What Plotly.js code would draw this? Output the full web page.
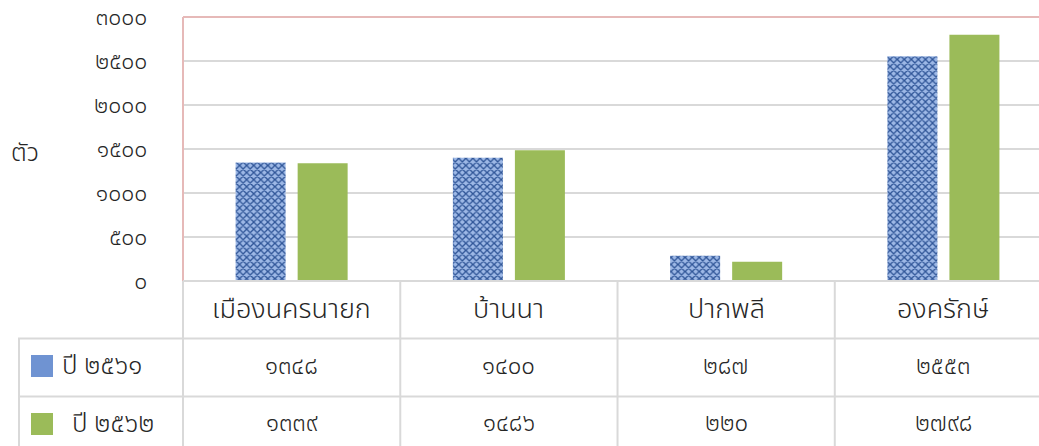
<!DOCTYPE html>
<html>
<head>
<meta charset="utf-8">
<script src="https://cdn.plot.ly/plotly-3.0.1.min.js"></script>
<style>html,body{margin:0;padding:0;background:#fff;}#chart{width:1039px;height:446px;}</style>
</head>
<body>
<div id="chart"></div>
<script>
// ---- data ----
var categories = ['เมืองนครนายก', 'บ้านนา', 'ปากพลี', 'องครักษ์'];
var seriesNames = ['ปี ๒๕๖๑', 'ปี ๒๕๖๒'];
var values2561 = [1348, 1400, 287, 2553];
var values2562 = [1339, 1486, 220, 2798];
var yTickVals = [0, 500, 1000, 1500, 2000, 2500, 3000];
var yTickText = ['๐', '๕๐๐', '๑๐๐๐', '๑๕๐๐', '๒๐๐๐', '๒๕๐๐', '๓๐๐๐'];
var yTitle = 'ตัว';

// ---- helpers ----
var thaiDigits = ['๐','๑','๒','๓','๔','๕','๖','๗','๘','๙'];
function toThai(n) { return String(n).replace(/[0-9]/g, function (d) { return thaiDigits[+d]; }); }

var FONT = '"Noto Sans Thai", "Leelawadee UI", Tahoma, "DejaVu Sans", sans-serif';
var TXT = '#262626';
var GRID = '#d9d9d9';
var PINK = '#e6b9b8';
var BLUE = '#6f93d2';
var GREEN = '#9bbb59';
var WEIGHT = 300;

// geometry of the chart layout in paper units (plot area: x 183..1039, y 17..281)
var W = 1039, H = 446, L = 183, T = 17, B = 165;
var pw = W - L, ph = H - T - B;
function px(x) { return (x - L) / pw; }
function py(y) { return (H - B - y) / ph; }

var traces = [
  { type: 'bar', name: seriesNames[0], x: categories, y: values2561,
    marker: { color: BLUE, pattern: { shape: 'x', fgcolor: '#2f5597', bgcolor: '#9db8e6', size: 5, solidity: 0.45 } },
    hoverinfo: 'x+y' },
  { type: 'bar', name: seriesNames[1], x: categories, y: values2562,
    marker: { color: GREEN }, hoverinfo: 'x+y' }
];

var shapes = [];
function line(xref, x0, x1, yref, y0, y1, color) {
  shapes.push({ type: 'line', xref: xref, yref: yref, x0: x0, x1: x1, y0: y0, y1: y1,
    line: { color: color, width: 2 }, layer: 'above' });
}
// plot border (top + left) in pink
line('paper', 0, 1, 'paper', 1, 1, PINK);
line('paper', 0, 0, 'paper', 0, 1, PINK);
// data table grid
line('paper', 0, 1, 'paper', 0, 0, GRID);
line('paper', px(18), 1, 'paper', py(338.5), py(338.5), GRID);
line('paper', px(18), 1, 'paper', py(396.5), py(396.5), GRID);
line('paper', px(19), px(19), 'paper', py(338.5), py(H + 2), GRID);
line('paper', 0, 0, 'paper', 0, py(H + 2), GRID);
for (var i = 0; i < categories.length - 1; i++) {
  line('x', i + 0.5, i + 0.5, 'paper', 0, py(H + 2), GRID);
}
// legend keys in table
shapes.push({ type: 'rect', xref: 'paper', yref: 'paper', x0: px(31), x1: px(53), y0: py(355), y1: py(377),
  fillcolor: BLUE, line: { width: 0 } });
shapes.push({ type: 'rect', xref: 'paper', yref: 'paper', x0: px(31), x1: px(53), y0: py(413), y1: py(435),
  fillcolor: GREEN, line: { width: 0 } });

function f(size) { return { family: FONT, size: size, color: TXT, weight: WEIGHT }; }

var annotations = [];
categories.forEach(function (c, i) {
  annotations.push({ xref: 'x', yref: 'paper', x: c, y: py(309), text: c, showarrow: false,
    font: f(27), xanchor: 'center', yanchor: 'middle' });
  annotations.push({ xref: 'x', yref: 'paper', x: c, y: py(367), text: toThai(values2561[i]), showarrow: false,
    font: f(24), xanchor: 'center', yanchor: 'middle' });
  annotations.push({ xref: 'x', yref: 'paper', x: c, y: py(424), text: toThai(values2562[i]), showarrow: false,
    font: f(24), xanchor: 'center', yanchor: 'middle' });
});
annotations.push({ xref: 'paper', yref: 'paper', x: px(60), y: py(366), text: seriesNames[0], showarrow: false,
  font: f(26), xanchor: 'left', yanchor: 'middle' });
annotations.push({ xref: 'paper', yref: 'paper', x: px(70), y: py(424), text: seriesNames[1], showarrow: false,
  font: f(26), xanchor: 'left', yanchor: 'middle' });
annotations.push({ xref: 'paper', yref: 'paper', x: px(25), y: py(153), text: yTitle, showarrow: false,
  font: f(25), xanchor: 'center', yanchor: 'middle' });

var layout = {
  width: W, height: H,
  margin: { l: L, r: 0, t: T, b: B, pad: 0 },
  paper_bgcolor: '#fff', plot_bgcolor: '#fff',
  showlegend: false,
  barmode: 'group', bargap: 0.429, bargroupgap: 0.194,
  font: { family: FONT, color: TXT },
  xaxis: { type: 'category', categoryorder: 'array', categoryarray: categories,
    range: [-0.5, 3.44], showticklabels: false, showgrid: false, zeroline: false, showline: false, ticks: '' },
  yaxis: { range: [0, 3000], tickvals: yTickVals, ticktext: yTickText,
    showgrid: true, gridcolor: GRID, gridwidth: 2, zeroline: false, showline: false,
    ticks: 'outside', ticklen: 30, tickcolor: 'rgba(0,0,0,0)', ticklabeloverflow: 'allow',
    tickfont: f(23) },
  shapes: shapes,
  annotations: annotations
};

Plotly.newPlot('chart', traces, layout, { displayModeBar: false, staticPlot: true });
</script>
</body>
</html>
